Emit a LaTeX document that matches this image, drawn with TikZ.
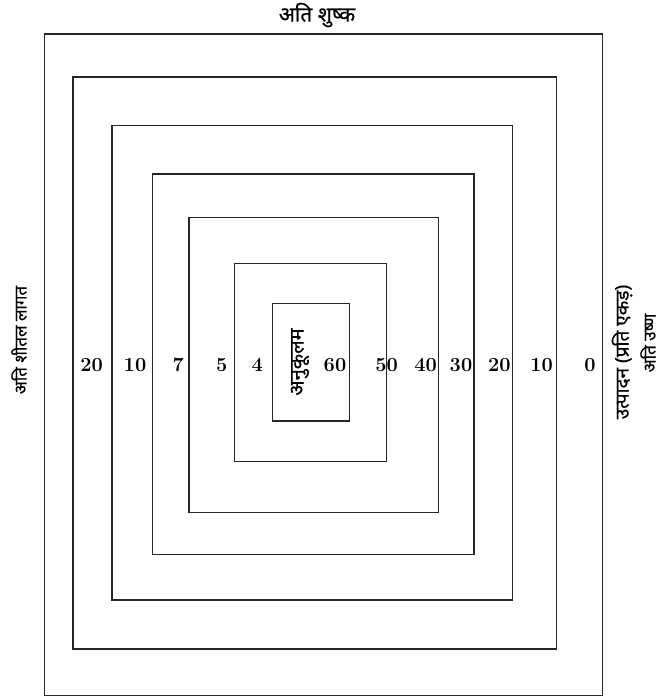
\documentclass[tikz,border=0pt]{standalone}
\usepackage{fontspec}
\newfontfamily\deva[Script=Devanagari,FakeBold=0.6]{Noto Sans}
\begin{document}
\begin{tikzpicture}[x=1pt,y=-1pt,
  box/.style={draw=black!85, line width=1.3pt},
  num/.style={font=\fontsize{20}{24}\selectfont\bfseries, inner sep=0pt},
  hin/.style={font=\deva\fontsize{16}{19}\selectfont, inner sep=0pt}]
\useasboundingbox (0,0) rectangle (663,697);
% concentric rectangles
\draw[box] (44.5,34) rectangle (602.5,695.5);
\draw[box] (73,77) rectangle (556.5,649);
\draw[box] (112,125.5) rectangle (512.5,600);
\draw[box] (152.5,174) rectangle (474,554.5);
\draw[box] (189,217.5) rectangle (438.5,512.5);
\draw[box] (234.5,263.5) rectangle (386.7,461.5);
\draw[box] (272.5,303.5) rectangle (349.3,421);
% numbers
\node[num] (l20) at (91.7,365) {20};
\node[num] (l10) at (135,365) {10};
\node[num] (l7) at (178.3,365) {7};
\node[num] (l5) at (221.7,365) {5};
\node[num] (l4) at (257.3,365) {4};
\node[num] (c60) at (335,365) {60};
\node[num] (r50) at (386.7,365) {50};
\node[num] (r40) at (425.7,365) {40};
\node[num] (r30) at (461,365) {30};
\node[num] (r20) at (499.3,365) {20};
\node[num] (r10) at (541.7,365) {10};
\node[num] (r0) at (590,365) {0};
% labels
\node[hin, font=\deva\fontsize{21}{24}\selectfont] (top) at (317,15) {अति शुष्क};
\node[hin, font=\deva\fontsize{17}{20}\selectfont, rotate=90] (left) at (19,340) {अति शीतल लागत};
\node[hin, font=\deva\fontsize{20}{24}\selectfont, rotate=90] (opt) at (300,362) {अनुकूलम};
\node[hin, font=\deva\fontsize{19}{22}\selectfont, rotate=90] (prod) at (622,352) {उत्पादन (प्रति एकड़)};
\node[hin, font=\deva\fontsize{17}{20}\selectfont, rotate=90] (hot) at (648,343) {अति उष्ण};
\end{tikzpicture}
\end{document}
